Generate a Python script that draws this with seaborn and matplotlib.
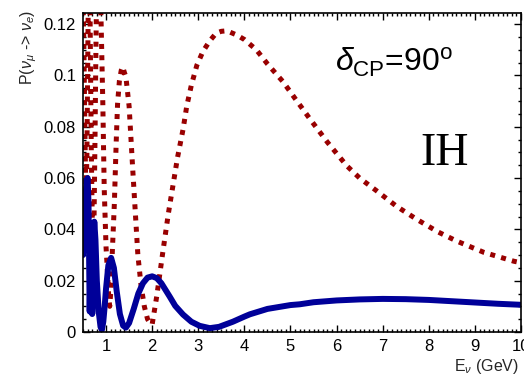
import matplotlib
matplotlib.use("Agg")
import matplotlib.pyplot as plt
from matplotlib.ticker import MultipleLocator
import pandas as pd
import seaborn as sns

# Appearance probability
energy_red = [0.50, 0.52, 0.54, 0.555, 0.57, 0.585, 0.60, 0.615, 0.63, 0.645,
              0.66, 0.68, 0.70, 0.72, 0.74, 0.76, 0.78, 0.80, 0.83, 0.86,
              0.89, 0.93, 0.96, 1.00, 1.03, 1.06, 1.08, 1.10, 1.14, 1.18,
              1.22, 1.25, 1.29, 1.33, 1.36, 1.40, 1.43, 1.50, 1.58, 1.69,
              1.76, 1.83, 1.90, 1.97, 2.00, 2.10, 2.23, 2.35, 2.45, 2.55,
              2.67, 2.75, 2.85, 2.97, 3.10, 3.25, 3.39, 3.50, 3.62, 3.83,
              4.00, 4.26, 4.50, 4.84, 5.10, 5.42, 5.80, 6.22, 6.50, 6.87,
              7.30, 7.74, 8.20, 8.61, 9.20, 9.84, 10.0]
prob_red = [0.130, 0.110, 0.080, 0.062, 0.055, 0.070, 0.100, 0.130, 0.150, 0.140,
            0.110, 0.070, 0.045, 0.035, 0.045, 0.075, 0.110, 0.140, 0.155, 0.135,
            0.123, 0.089, 0.056, 0.033, 0.0235, 0.013, 0.010, 0.015, 0.033, 0.050,
            0.074, 0.089, 0.098, 0.102, 0.1034, 0.101, 0.0995, 0.088, 0.063, 0.030,
            0.018, 0.010, 0.005, 0.003, 0.003, 0.014, 0.031, 0.046, 0.057, 0.068,
            0.079, 0.088, 0.0962, 0.104, 0.1093, 0.1135, 0.1165, 0.1172, 0.1174, 0.1158,
            0.1140, 0.110, 0.1045, 0.0975, 0.091, 0.0831, 0.074, 0.0648, 0.060, 0.055,
            0.049, 0.0439, 0.039, 0.0354, 0.031, 0.0276, 0.027]

energy_blue = [0.50, 0.52, 0.55, 0.58, 0.60, 0.62, 0.635, 0.645, 0.655, 0.67,
               0.685, 0.70, 0.715, 0.73, 0.745, 0.77, 0.80, 0.84, 0.88, 0.91,
               0.94, 0.97, 1.00, 1.05, 1.11, 1.17, 1.23, 1.30, 1.37, 1.43,
               1.50, 1.60, 1.70, 1.80, 1.90, 2.00, 2.10, 2.20, 2.38, 2.50,
               2.67, 2.85, 3.03, 3.25, 3.45, 3.75, 4.00, 4.12, 4.50, 5.00,
               5.20, 5.50, 6.00, 6.50, 7.00, 7.50, 8.00, 8.50, 9.00, 9.50,
               10.0]
prob_blue = [0.030, 0.040, 0.052, 0.059, 0.060, 0.050, 0.025, 0.008, 0.020, 0.042,
             0.030, 0.007, 0.018, 0.036, 0.043, 0.036, 0.020, 0.008, 0.002, 0.0008,
             0.004, 0.010, 0.017, 0.026, 0.0289, 0.025, 0.016, 0.007, 0.0025, 0.0017,
             0.0035, 0.009, 0.015, 0.019, 0.0212, 0.0217, 0.021, 0.019, 0.0138, 0.0102,
             0.0068, 0.0040, 0.0024, 0.0015, 0.0020, 0.0040, 0.0060, 0.0069, 0.009, 0.0105,
             0.0108, 0.0116, 0.0123, 0.0127, 0.0129, 0.0128, 0.0125, 0.0120, 0.0115, 0.0110,
             0.0106]

x_ticks = [1, 2, 3, 4, 5, 6, 7, 8, 9, 10]
y_ticks = [0, 0.02, 0.04, 0.06, 0.08, 0.1, 0.12]
y_tick_labels = ["0", "0.02", "0.04", "0.06", "0.08", "0.1", "0.12"]

red_df = pd.DataFrame({"E": energy_red, "P": prob_red})
blue_df = pd.DataFrame({"E": energy_blue, "P": prob_blue})

sns.set_style("ticks")
plt.rcParams["font.family"] = ["Liberation Sans", "DejaVu Sans"]
plt.rcParams["mathtext.fontset"] = "custom"
plt.rcParams["mathtext.rm"] = "Liberation Sans"
plt.rcParams["mathtext.it"] = "Liberation Sans:italic"

fig = plt.figure(figsize=(5.24, 3.78), dpi=100)
ax = fig.add_axes([0.1584, 0.1217, 0.8359, 0.8450])

sns.lineplot(data=red_df, x="E", y="P", ax=ax, color="#990000", lw=3.6,
             estimator=None)
ax.lines[-1].set_dashes((1.0, 1.25))
ax.lines[-1].set_dash_capstyle("butt")
sns.lineplot(data=blue_df, x="E", y="P", ax=ax, color="#000099", lw=4.3,
             estimator=None)

ax.set_xlim(0.5, 10)
ax.set_ylim(0, 0.1245)
ax.set_xticks(x_ticks)
ax.set_yticks(y_ticks)
ax.set_yticklabels(y_tick_labels)
ax.xaxis.set_minor_locator(MultipleLocator(0.1))
ax.yaxis.set_minor_locator(MultipleLocator(0.005))
ax.tick_params(which="both", direction="in", top=True, right=True,
               colors="black", labelsize=12, width=1.0)
ax.tick_params(which="major", length=5, pad=5)
ax.tick_params(which="minor", length=2.5)
for side in ax.spines.values():
    side.set_linewidth(1.2)
    side.set_color("black")
ax.set_xlabel("")
ax.set_ylabel("")

fig.text(0.990, 0.030, r"E$_\nu$ (GeV)", ha="right", va="center", fontsize=11.5)
fig.text(0.054, 0.975, r"P($\nu_\mu$ -> $\nu_e$)", rotation=90, ha="center",
         va="top", fontsize=11.5)

ax.text(0.575, 0.815, r"$\delta_{\mathrm{CP}}$=90$^{\mathrm{o}}$",
        transform=ax.transAxes, fontsize=23, color="black")
ax.text(0.77, 0.523, "IH", transform=ax.transAxes, fontsize=33,
        family=["Liberation Serif", "DejaVu Serif"], color="black")

fig.savefig("out.png", dpi=100)
